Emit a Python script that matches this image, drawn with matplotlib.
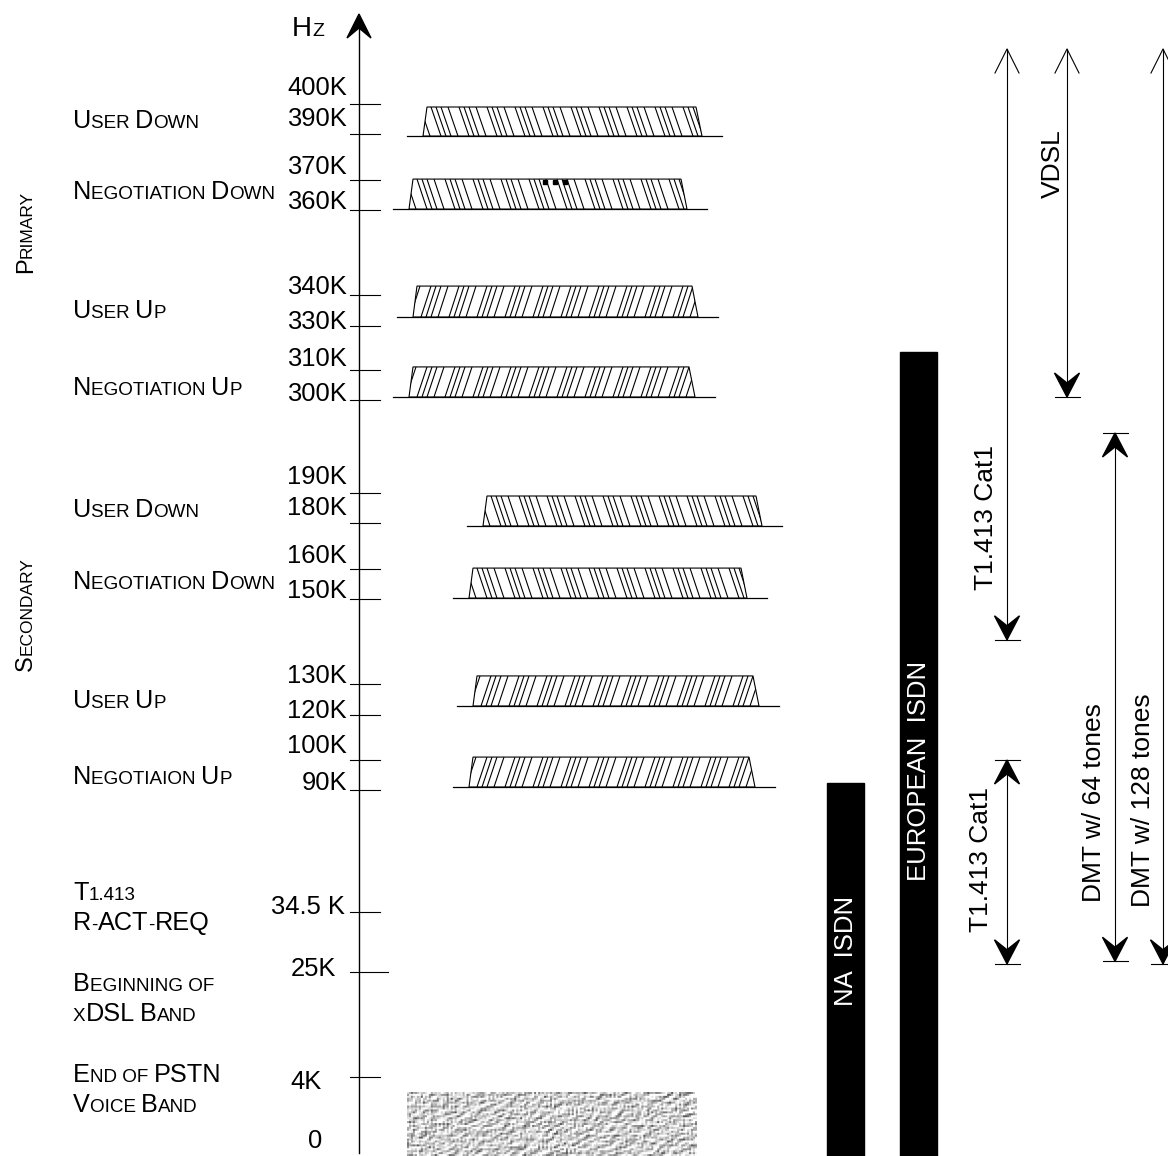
import numpy as np
import matplotlib.pyplot as plt
from matplotlib.patches import Polygon, Rectangle
from matplotlib.collections import LineCollection

plt.rcParams['font.family'] = ['Liberation Sans', 'DejaVu Sans']

# ---- data (frequencies in kHz) ----
tick_freqs_k = [0, 4, 25, 34.5, 90, 100, 120, 130, 150, 160, 180, 190,
                300, 310, 330, 340, 360, 370, 390, 400]
tick_labels = ['0', '4K', '25K', '34.5 K', '90K', '100K', '120K', '130K', '150K', '160K',
               '180K', '190K', '300K', '310K', '330K', '340K', '360K', '370K', '390K', '400K']

band_labels = ['User Down', 'Negotiation Down', 'User Up', 'Negotiation Up',
               'User Down', 'Negotiation Down', 'User Up', 'Negotiaion Up']
band_lo_k = [389.1, 360.3, 332.9, 301.0, 178.7, 150.3, 122.9, 91.0]
band_hi_k = [399.0, 370.4, 342.1, 311.4, 189.0, 160.4, 131.9, 101.3]
band_dir = ['\\', '\\', '/', '/', '\\', '\\', '/', '/']

group_labels = ['Primary', 'Secondary']

low_labels = ['T1.413', 'R-ACT-REQ', 'Beginning of', 'xDSL Band', 'End of PSTN', 'Voice Band']

voice_band_k = [0, 3.2]
isdn_labels = ['NA  ISDN', 'EUROPEAN  ISDN']
isdn_top_k = [92.3, 318.2]

range_labels = ['T1.413 Cat1', 'VDSL', 'DMT w/ 128 tones', 'DMT w/ 64 tones', 'T1.413 Cat1']
range_lo_k = [140.4, 301.0, 26.3, 26.7, 26.3]
range_hi_k = [np.inf, np.inf, np.inf, 261.0, 100.0]   # inf = open ended (goes off the top)

# ---- layout (pixels) ----
axis_x = 359
axis_px = [1153, 1077, 972, 912, 790, 760, 715, 684, 599, 569, 523, 493,
           400, 370, 326, 295, 210, 180, 134, 104]           # broken frequency scale
lab_shift = [5, -12, -4, -2, 0, 7, -3, 1, 1, 6, 8, 9, -1, 4, -3, 1, 1, 6, 8, 9]
lab_right = [322, 322, 336, 345] + [347] * 16
tick_end = [380, 380, 388] + [380] * 17

band_left = [423, 409, 413, 409, 483, 469, 473, 469]
band_right = [702, 687, 698, 695, 762, 747, 759, 755]
band_lab_y = [128, 199, 318, 395, 517, 589, 708, 784]
low_lab_y = [900, 930, 991, 1021, 1082, 1112]
group_y = [232, 614]

isdn_x = [827, 900]
isdn_w = 37
isdn_text_xy = [(846, 951), (919, 771)]

range_x = [1007, 1067, 1163, 1115, 1007]
range_text_xy = [(986, 518), (1053, 164), (1143, 800), (1094, 803), (981, 860)]
open_top = 49

BIG, SMALL = 18.2, 13.6


def fy(f):
    return np.interp(f, tick_freqs_k, axis_px)


fig = plt.figure(figsize=(11.68, 11.56), dpi=100)
ax = fig.add_axes([0, 0, 1, 1])
ax.axis('off')
renderer = fig.canvas.get_renderer()


def text_width(s, size):
    t = ax.text(0, 0, s + '|', fontsize=size)
    w1 = t.get_window_extent(renderer).width
    t.set_text('|')
    w2 = t.get_window_extent(renderer).width
    t.remove()
    return w1 - w2


def smallcaps(x, y, label, big=BIG, small=SMALL, rotation=0, center=False):
    # uppercase chars big, everything else as small capitals
    runs = []
    for ch in label:
        b = ch.isupper()
        if runs and runs[-1][1] == b:
            runs[-1][0] += ch.upper()
        else:
            runs.append([ch.upper(), b])
    widths = [text_width(s, big if b else small) for s, b in runs]
    pos = -sum(widths) / 2 if center else 0
    for (s, b), w in zip(runs, widths):
        if rotation == 0:
            ax.text(x + pos, y, s, fontsize=big if b else small, ha='left', va='baseline')
        else:
            ax.text(x, y - pos, s, fontsize=big if b else small, ha='left', va='baseline',
                    rotation=90, rotation_mode='anchor')
        pos += w


# frequency axis
ax.plot([axis_x, axis_x], [1153, 22], color='k', lw=1)
ax.add_patch(Polygon([(axis_x, 14), (axis_x - 12, 38), (axis_x, 28), (axis_x + 12, 38)],
                     closed=True, color='k'))
smallcaps(292, 36, 'Hz', big=20, small=14)

for f, lab, sh, xr, xe in zip(tick_freqs_k, tick_labels, lab_shift, lab_right, tick_end):
    y = fy(f)
    if f > 0:
        ax.plot([350, xe], [y, y], color='k', lw=0.8)
    ax.text(xr, y - sh, lab, fontsize=18.4, ha='right', va='baseline')

# hatched bands
pattern = [0, 5, 10, 17]
for i in range(len(band_labels)):
    top, bot = fy(band_hi_k[i]), fy(band_lo_k[i])
    bl, br = band_left[i], band_right[i]
    poly = Polygon([(bl, bot), (bl + 4, top), (br - 6, top), (br, bot)], closed=True,
                   facecolor='white', edgecolor='k', lw=0.8)
    ax.add_patch(poly)
    segs = []
    for p0 in range(bl - 20, br + 20, 28):
        for o in pattern:
            p = p0 + o
            if band_dir[i] == '\\':
                segs.append([(p, top), (p + 10, bot)])
            else:
                segs.append([(p + 10, top), (p, bot)])
    lc = LineCollection(segs, colors='k', linewidths=0.8)
    ax.add_collection(lc)
    lc.set_clip_path(poly)
    ax.plot([bl - 16, br + 20], [bot, bot], color='k', lw=0.9)
    smallcaps(73, band_lab_y[i], band_labels[i])

# "..." marker in the primary negotiation down band
cx = (band_left[1] + band_right[1]) / 2 + 7
ax.plot([cx - 10, cx, cx + 10], [fy(band_hi_k[1]) + 3] * 3, 's', color='k', ms=3.4)

# group labels (rotated)
for lab, y in zip(group_labels, group_y):
    smallcaps(32, y, lab, big=17, small=12.5, rotation=90, center=True)

for lab, y in zip(low_labels, low_lab_y):
    smallcaps(73, y, lab)

# voice band texture (stone-like relief, coarse grain)
ii, jj = np.mgrid[0:34, 0:146]
n = np.sin(ii * 12.9898 + jj * 78.233) * 43758.5453
n = n - np.floor(n)
n = (n + np.roll(n, 1, 1) + np.roll(n, 2, 1) + np.roll(n, 1, 0)) / 4
emb = n - np.roll(np.roll(n, 1, 0), 1, 1)
img = np.clip(0.82 + 1.0 * emb, 0.35, 1.0)
img = np.kron(img, np.ones((2, 2)))
ax.imshow(img, cmap='gray', vmin=0, vmax=1, aspect='auto', interpolation='bilinear',
          extent=[407, 697, 1158, fy(voice_band_k[1])], zorder=1)

# ISDN bars
for lab, x, f, (tx, ty) in zip(isdn_labels, isdn_x, isdn_top_k, isdn_text_xy):
    ax.add_patch(Rectangle((x, fy(f)), isdn_w, 1160 - fy(f), color='k'))
    ax.text(tx, ty, lab, color='white', fontsize=18.5, rotation=90, ha='center', va='center',
            bbox=dict(facecolor='black', edgecolor='none', pad=1.0))


# range arrows
def head(x, y, d):
    # filled concave head, tip at (x, y); d=+1 points down, -1 points up
    ax.add_patch(Polygon([(x, y), (x - 12.5, y - 24 * d), (x, y - 14 * d), (x + 12.5, y - 24 * d)],
                         closed=True, color='k'))
    ax.plot([x - 12.5, x + 12.5], [y, y], color='k', lw=0.8)


for lab, x, lo, hi, (tx, ty) in zip(range_labels, range_x, range_lo_k, range_hi_k, range_text_xy):
    yb = fy(lo)
    yt = open_top if np.isinf(hi) else fy(hi)
    ax.plot([x, x], [yt, yb], color='k', lw=0.8)
    head(x, yb, 1)
    if np.isinf(hi):
        ax.plot([x - 12, x, x + 12], [yt + 24, yt, yt + 24], color='k', lw=0.8)
    else:
        head(x, yt, -1)
    ax.text(tx, ty, lab, fontsize=19, rotation=90, ha='center', va='center')

ax.set_xlim(0, 1168)
ax.set_ylim(1156, 0)
fig.savefig('out.png', dpi=100, facecolor='white')
